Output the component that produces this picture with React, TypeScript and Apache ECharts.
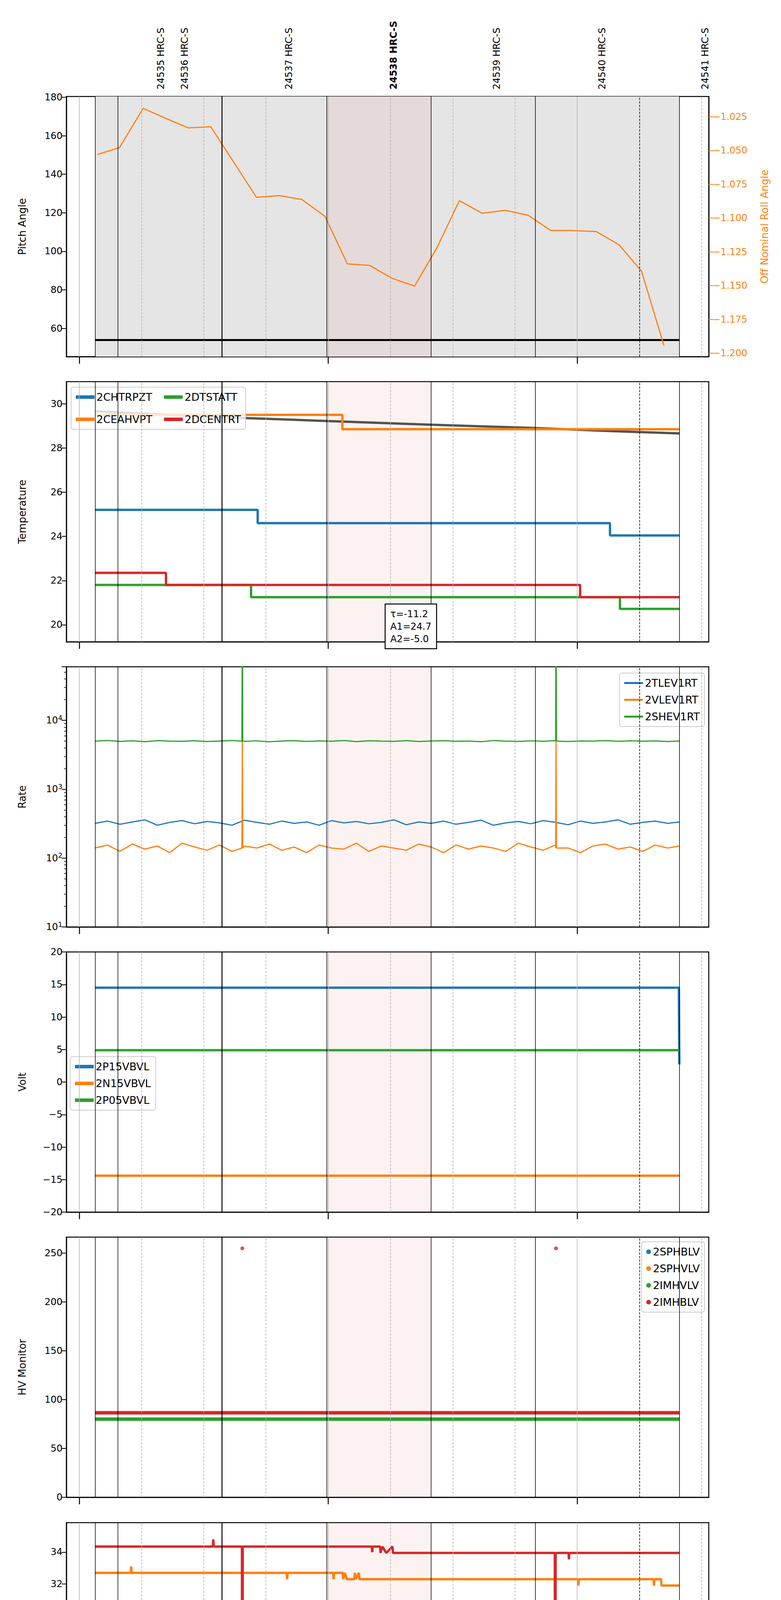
import * as echarts from 'echarts';
import React, { useEffect, useRef } from 'react';

// minutes after 14:00 on 2021-04-04
const X_MIN = -3.1;
const X_MAX = 151.7;
const T0 = 3.8;
const T1 = 144.6;

const OBS_TIMES = [19.7, 25.4, 50.5, 75.8, 100.6, 126, 150.9];
const OBS_LABELS = ['24535 HRC-S', '24536 HRC-S', '24537 HRC-S', '24538 HRC-S', '24539 HRC-S', '24540 HRC-S', '24541 HRC-S'];
const BOLD_OBS = '24538 HRC-S';

const GRAY_GRID = [0, 60, 120];
const DASHED_GRID = [15, 30, 45, 75, 90, 105, 150];
const BLACK_LINES = [3.8, 9.3, 59.6, 84.8, 109.9, 144.6];
const THICK_LINES = [34.4];
const DASHED_BLACK = [135];
const FOCUS_SPAN = [59.6, 84.8];

// panel 1
const PITCH = [[3.8, 53.9], [144.6, 53.9]];
const ROLL = [
  [4.4, -1.0529], [9.7, -1.0479], [15.4, -1.0188], [20.9, -1.0262], [26.3, -1.0333], [31.7, -1.0324],
  [42.7, -1.0846], [48.2, -1.0834], [53.6, -1.0862], [59.2, -1.0987], [64.6, -1.1339], [70.0, -1.1351],
  [75.4, -1.1446], [80.8, -1.1504], [86.2, -1.122], [91.6, -1.0871], [97.1, -1.0965], [102.7, -1.0943],
  [108.2, -1.098], [113.6, -1.1091], [119.2, -1.1093], [124.6, -1.110], [130.1, -1.1199], [135.5, -1.1393],
  [140.9, -1.1944],
];

// panel 2
const T_CHTRPZT = [[3.8, 25.2], [43, 25.2], [43, 24.6], [127.9, 24.6], [127.9, 24.04], [144.6, 24.04]];
const T_CEAHVPT = [[3.8, 29.5], [63.4, 29.5], [63.4, 28.85], [144.6, 28.85]];
const T_DTSTATT = [[3.8, 21.8], [41.4, 21.8], [41.4, 21.25], [130.3, 21.25], [130.3, 20.72], [144.6, 20.72]];
const T_DCENTRT = [[3.8, 22.35], [20.9, 22.35], [20.9, 21.8], [120.7, 21.8], [120.7, 21.25], [144.6, 21.25]];
const T_FIT = [[3.8, 29.66], [30, 29.42], [59.6, 29.22], [84.8, 29.05], [109.9, 28.9], [130, 28.75], [144.6, 28.66]];

// panel 3
const RATE_TIMES = [3.8, 6.8, 9.8, 12.8, 15.8, 18.8, 21.8, 24.8, 27.8, 30.8, 33.8, 36.8, 39.8, 42.8, 45.8, 48.8,
  51.8, 54.8, 57.8, 60.8, 63.8, 66.8, 69.8, 72.8, 75.8, 78.8, 81.8, 84.8, 87.8, 90.8, 93.8, 96.8, 99.8, 102.8,
  105.8, 108.8, 111.8, 114.8, 117.8, 120.8, 123.8, 126.8, 129.8, 132.8, 135.8, 138.8, 141.8, 144.6];
const R_TLEV1RT = [320, 345, 310, 335, 360, 300, 330, 350, 315, 340, 325, 300, 355, 330, 310, 345, 320, 335, 300, 350,
  325, 340, 315, 330, 360, 305, 335, 320, 345, 310, 330, 355, 300, 325, 340, 315, 350, 330, 305, 345, 320, 335, 360,
  310, 330, 345, 320, 335];
const R_VLEV1RT = [140, 155, 125, 160, 135, 150, 120, 165, 145, 130, 155, 125, 150, 140, 160, 130, 145, 120, 155, 140,
  135, 165, 125, 150, 140, 130, 160, 145, 120, 155, 135, 150, 140, 125, 165, 145, 130, 155, 140, 120, 150, 160, 135,
  145, 125, 155, 140, 150];
const R_SHEV1RT = [5000, 5100, 4950, 5050, 4900, 5080, 5000, 4970, 5060, 4930, 5020, 5090, 4960, 5040, 4880, 5010,
  5070, 4950, 5030, 4990, 5100, 4920, 5050, 5000, 4960, 5080, 4940, 5020, 5060, 4970, 5010, 4900, 5090, 5000, 4950,
  5040, 4980, 5070, 4930, 5020, 5000, 5080, 4960, 5050, 4990, 5030, 4940, 5010];
const V_SPIKES = [[39.2, 140], [39.3, 5000], [39.4, 140], [114.8, 140], [114.9, 5000], [115.0, 140]];
const S_SPIKES = [[39.2, 5000], [39.3, 1e6], [39.4, 5000], [114.8, 5000], [114.9, 1e6], [115.0, 5000]];

// panel 4
const V_P15 = [[3.8, 14.5], [144.5, 14.5], [144.6, 2.7]];
const V_N15 = [[3.8, -14.4], [144.6, -14.4]];
const V_P05 = [[3.8, 4.9], [144.6, 4.9]];

// panel 5
const HV_IMHVLV = [[3.8, 80], [144.6, 80]];
const HV_IMHBLV = [[3.8, 86.5], [144.6, 86.5]];
const HV_IMHBLV_OUT = [[39.3, 255], [114.9, 255]];

// panel 6
const D_SPINATM = [[3.8, 21.0], [144.6, 21.0]];
const D_SPHVATM = [[3.8, 32.7], [12.4, 32.7], [12.5, 33.1], [12.6, 32.7], [50.0, 32.7], [50.1, 32.3], [50.2, 32.7],
  [61.2, 32.7], [61.3, 32.3], [61.4, 32.7], [63.5, 32.7], [63.6, 32.3], [64, 32.7], [64.5, 32.3], [66.3, 32.3],
  [66.4, 32.7], [66.6, 32.3], [67.4, 32.7], [67.5, 32.3], [120.2, 32.3], [120.3, 31.9], [120.4, 32.3], [138.4, 32.3],
  [138.5, 31.9], [138.6, 32.3], [140.2, 32.3], [140.3, 31.9], [144.6, 31.9]];
const D_IMINATM = [[3.8, 21.7], [123.6, 21.7], [123.7, 21.0], [124, 21.7], [125.5, 21.7], [125.6, 21.0], [126.3, 21.7],
  [126.4, 21.0], [144.6, 21.0]];
const D_IMHVATM = [[3.8, 34.35], [32.2, 34.35], [32.3, 34.8], [32.4, 34.35], [39.2, 34.35], [39.3, 10], [39.4, 34.35],
  [70.5, 34.35], [70.6, 34.0], [70.7, 34.35], [72.5, 34.35], [72.6, 33.95], [73, 34.35], [74, 33.95], [75.5, 34.35],
  [75.6, 33.95], [114.6, 33.95], [114.7, 10], [114.8, 33.95], [117.9, 33.95], [118, 33.55], [118.1, 33.95],
  [144.6, 33.95]];

// panel 7
const F_FHTRMZT = [[3.8, 22.9], [43.7, 22.9], [43.8, 22.35], [130.6, 22.35], [130.7, 21.8], [144.6, 21.8]];
const F_FRADPYT = [[3.8, 17.65], [8.8, 17.65], [8.9, 17.15], [88.4, 17.15], [88.5, 16.65], [144.6, 16.65]];
const F_FEPRATM = [[3.8, 24.65], [39.2, 24.65], [39.3, 22.7], [39.4, 24.65], [63.3, 24.65], [63.4, 23.9], [64, 24.65],
  [65.2, 24.65], [65.3, 23.9], [114.6, 23.9], [114.7, 22.1], [114.8, 23.9], [144.6, 23.9]];
const F_FE00ATM = [[3.8, 22.65], [9.2, 22.65], [9.3, 23.0], [9.4, 22.65], [14.8, 22.65], [14.9, 23.65], [15.0, 21.9],
  [15.1, 22.65], [16.9, 22.65], [17.0, 23.3], [17.1, 22.65], [23.6, 22.65], [23.7, 21.7], [23.8, 22.65], [28.3, 22.65],
  [28.4, 21.7], [28.5, 22.65], [31.8, 22.65], [31.9, 23.0], [32.0, 22.65], [34.9, 22.65], [35.0, 21.05], [35.1, 22.65],
  [37.1, 22.65], [37.2, 22.35], [37.4, 22.65], [39.2, 22.65], [39.3, 10], [39.5, 23.0], [39.6, 22.35], [43.7, 22.35],
  [43.8, 21.7], [44.3, 23.0], [44.4, 22.35], [80.0, 22.35], [80.1, 22.0], [80.2, 22.35], [88.4, 22.35], [88.5, 22.65],
  [88.6, 22.35], [94.7, 22.35], [94.8, 22.65], [94.9, 22.35], [98.4, 22.35], [98.5, 22.0], [98.8, 22.35],
  [101.5, 22.35], [101.6, 22.0], [105.5, 22.0], [105.6, 23.3], [105.7, 22.0], [109.8, 22.0], [109.9, 22.35],
  [110.0, 22.0], [114.6, 22.0], [114.7, 10], [114.8, 22.0], [127.5, 22.0], [127.6, 21.4], [127.7, 22.0], [128.6, 22.0],
  [128.7, 22.35], [128.8, 21.7], [128.9, 22.0], [144.6, 22.0]];

const BLUE = '#1f77b4';
const ORANGE = '#ff7f0e';
const GREEN = '#2ca02c';
const RED = '#d62728';
const FONT = 'DejaVu Sans';

const GRID_TOPS = [247, 977, 1707, 2437, 3167, 3898, 4628];
const GRID_H = 666;

const zip = (xs: number[], ys: number[]) => xs.map((x, i) => [x, ys[i]]);
const merge = (a: number[][], b: number[][]) => [...a, ...b].sort((p, q) => p[0] - q[0]);
const minus = (v: number, digits = 0) => (v < 0 ? '\u2212' : '') + Math.abs(v).toFixed(digits);

const App: React.FC = () => {
  const ref = useRef<HTMLDivElement>(null);

  useEffect(() => {
    if (!ref.current) return undefined;
    document.body.style.margin = '0';
    const chart = echarts.init(ref.current, null, { renderer: 'svg' });

    const vLine = (x: number, color: string, width: number, type: string) => ({
      xAxis: x,
      lineStyle: { color, width, type },
    });
    const markers = (top: boolean) => ({
      markLine: {
        silent: true,
        symbol: ['none', 'none'],
        label: { show: false },
        data: [
          ...GRAY_GRID.map((x) => vLine(x, '#b0b0b0', 1.5, 'solid')),
          ...DASHED_GRID.map((x) => vLine(x, '#b0b0b0', 1.5, 'dashed')),
          ...BLACK_LINES.map((x) => vLine(x, '#000', 1.5, 'solid')),
          ...THICK_LINES.map((x) => vLine(x, '#000', 2.5, 'solid')),
          ...DASHED_BLACK.map((x) => vLine(x, '#000', 1.5, 'dashed')),
        ],
      },
      markArea: {
        silent: true,
        data: [
          ...(top ? [[{ xAxis: T0, itemStyle: { color: '#e5e5e5' } }, { xAxis: T1 }]] : []),
          [{ xAxis: FOCUS_SPAN[0], itemStyle: { color: 'rgba(240,128,128,0.1)' } }, { xAxis: FOCUS_SPAN[1] }],
        ],
      },
    });

    const grids = GRID_TOPS.map((top) => ({
      left: 170, right: 185, top, height: GRID_H, show: true, borderColor: '#000', borderWidth: 2.5,
      backgroundColor: 'transparent',
    }));

    const xAxes: any[] = GRID_TOPS.map((_, i) => ({
      type: 'value', gridIndex: i, min: X_MIN, max: X_MAX, splitLine: { show: false },
      axisLine: { show: true, onZero: false, lineStyle: { color: '#000', width: 2.5 } },
      axisTick: { show: true, customValues: [0, 60, 120], length: 18, lineStyle: { color: '#000', width: 2.5 } },
      axisLabel: i === 6
        ? {
          show: true, customValues: [0, 15, 30, 45, 60, 75, 90, 105, 120, 135, 150], margin: 10,
          formatter: (v: number) => (v % 60 === 0 ? `{maj|${14 + v / 60}h}` : `{mn|${v % 60}}`),
          rich: {
            maj: { fontSize: 28, fontFamily: FONT, color: '#000', padding: [34, 0, 0, 0] },
            mn: { fontSize: 18, fontFamily: FONT, color: '#000' },
          },
        }
        : { show: false },
      ...(i === 6 ? {
        name: '2021-04-04 (094)', nameLocation: 'middle', nameGap: 82,
        nameTextStyle: { fontSize: 30, fontFamily: FONT, color: '#000' },
      } : {}),
    }));
    xAxes.push({
      type: 'value', gridIndex: 0, position: 'top', min: X_MIN, max: X_MAX, splitLine: { show: false },
      axisLine: { show: false, onZero: false }, axisTick: { show: false },
      axisLabel: {
        show: true, customValues: OBS_TIMES, rotate: -90, margin: 18,
        formatter: (v: number) => {
          const lbl = OBS_LABELS[OBS_TIMES.indexOf(v)] ?? '';
          return lbl === BOLD_OBS ? `{b|${lbl}}` : `{n|${lbl}}`;
        },
        rich: {
          b: { fontSize: 24, fontWeight: 'bold', fontFamily: FONT, color: '#000' },
          n: { fontSize: 24, fontFamily: FONT, color: '#000' },
        },
      },
    });

    const yBase = (grid: number, name: string, min: number, max: number, ticks: number[] | null, extra: any = {}) => ({
      type: 'value', gridIndex: grid, min, max, name, nameLocation: 'middle', nameGap: 100,
      nameTextStyle: { fontSize: 26, fontFamily: FONT, color: '#000' },
      splitLine: { show: false },
      axisLine: { show: true, onZero: false, lineStyle: { color: '#000', width: 2.5 } },
      axisTick: { show: true, length: 12, lineStyle: { color: '#000', width: 2 }, ...(ticks ? { customValues: ticks } : {}) },
      axisLabel: {
        fontSize: 24, fontFamily: FONT, color: '#000', margin: 10,
        formatter: (v: number) => minus(v), ...(ticks ? { customValues: ticks } : {}),
      },
      ...extra,
    });

    const rollTicks = [-1.2, -1.175, -1.15, -1.125, -1.1, -1.075, -1.05, -1.025];
    const yAxes: any[] = [
      yBase(0, 'Pitch Angle', 45.3, 180.4, [60, 80, 100, 120, 140, 160, 180]),
      yBase(1, 'Temperature', 19.23, 31.0, [20, 22, 24, 26, 28, 30]),
      {
        type: 'log', gridIndex: 2, logBase: 10, min: 10, max: 60000, name: 'Rate', nameLocation: 'middle', nameGap: 100,
        nameTextStyle: { fontSize: 26, fontFamily: FONT, color: '#000' },
        splitLine: { show: false },
        axisLine: { show: true, onZero: false, lineStyle: { color: '#000', width: 2.5 } },
        axisTick: { show: true, length: 12, lineStyle: { color: '#000', width: 2 } },
        minorTick: { show: true, splitNumber: 9, length: 6, lineStyle: { color: '#000', width: 1.5 } },
        axisLabel: {
          fontSize: 24, fontFamily: FONT, color: '#000', margin: 10, showMaxLabel: false,
          formatter: (v: number) => `{b|10}{s|${Math.round(Math.log10(v))}}`,
          rich: {
            b: { fontSize: 24, fontFamily: FONT, color: '#000' },
            s: { fontSize: 18, fontFamily: FONT, color: '#000', verticalAlign: 'top', padding: [0, 0, 14, 0] },
          },
        },
      },
      yBase(3, 'Volt', -20, 20, null, { interval: 5 }),
      yBase(4, 'HV Monitor', 0, 266.5, [0, 50, 100, 150, 200, 250]),
      yBase(5, 'Detector Temp', 19.52, 35.85, [20, 22, 24, 26, 28, 30, 32, 34]),
      yBase(6, 'FEA Temp', 15.17, 26.13, [16, 18, 20, 22, 24, 26]),
      {
        type: 'value', gridIndex: 0, position: 'right', min: -1.2026, max: -1.010,
        name: 'Off Nominal Roll Angle', nameLocation: 'middle', nameGap: 130, nameRotate: 90,
        nameTextStyle: { fontSize: 26, fontFamily: FONT, color: ORANGE },
        splitLine: { show: false },
        axisLine: { show: true, onZero: false, lineStyle: { color: '#000', width: 2.5 } },
        axisTick: { show: true, length: 12, lineStyle: { color: ORANGE, width: 2 }, customValues: rollTicks },
        axisLabel: { fontSize: 24, fontFamily: FONT, color: ORANGE, margin: 10, customValues: rollTicks,
          formatter: (v: number) => minus(v, 3) },
      },
    ];

    const line = (name: string, axis: number, data: number[][], color: string, width: number, extra: any = {}) => ({
      name, type: 'line', xAxisIndex: axis, yAxisIndex: axis, data, showSymbol: false, symbol: 'none',
      lineStyle: { color, width }, itemStyle: { color }, z: 3, ...extra,
    });
    const dummy = (i: number, y: number) => ({
      type: 'line', xAxisIndex: i, yAxisIndex: i, data: [[X_MIN, y]], symbol: 'none', silent: true,
      lineStyle: { opacity: 0 }, z: 1, ...markers(i === 0),
    });

    const series: any[] = [
      dummy(0, 100), dummy(1, 25), dummy(2, 100), dummy(3, 0), dummy(4, 100), dummy(5, 25), dummy(6, 20),
      line('Pitch', 0, PITCH, '#000', 5),
      line('Roll', 0, ROLL, ORANGE, 3, { yAxisIndex: 7 }),
      line('fit', 1, T_FIT, 'rgba(40,40,40,0.8)', 6),
      line('2CHTRPZT', 1, T_CHTRPZT, BLUE, 6),
      line('2CEAHVPT', 1, T_CEAHVPT, ORANGE, 6),
      line('2DTSTATT', 1, T_DTSTATT, GREEN, 6),
      line('2DCENTRT', 1, T_DCENTRT, RED, 6),
      line('2TLEV1RT', 2, zip(RATE_TIMES, R_TLEV1RT), BLUE, 3),
      line('2VLEV1RT', 2, merge(zip(RATE_TIMES, R_VLEV1RT), V_SPIKES), ORANGE, 3),
      line('2SHEV1RT', 2, merge(zip(RATE_TIMES, R_SHEV1RT), S_SPIKES), GREEN, 3),
      line('2P15VBVL', 3, V_P15, BLUE, 6),
      line('2N15VBVL', 3, V_N15, ORANGE, 6),
      line('2P05VBVL', 3, V_P05, GREEN, 6),
      line('2SPHBLV', 4, [], BLUE, 8),
      line('2SPHVLV', 4, [], ORANGE, 8),
      line('2IMHVLV', 4, HV_IMHVLV, GREEN, 9),
      line('2IMHBLV', 4, HV_IMHBLV, RED, 9),
      { name: '2IMHBLV', type: 'scatter', xAxisIndex: 4, yAxisIndex: 4, data: HV_IMHBLV_OUT, symbolSize: 10,
        itemStyle: { color: RED }, z: 3 },
      line('2SPINATM', 5, D_SPINATM, BLUE, 6),
      line('2SPHVATM', 5, D_SPHVATM, ORANGE, 6),
      line('2IMINATM', 5, D_IMINATM, GREEN, 6),
      line('2IMHVATM', 5, D_IMHVATM, RED, 6),
      line('2FHTRMZT', 6, F_FHTRMZT, BLUE, 6),
      line('2FRADPYT', 6, F_FRADPYT, ORANGE, 6),
      line('2FEPRATM', 6, F_FEPRATM, GREEN, 6),
      line('2FE00ATM', 6, F_FE00ATM, RED, 6),
    ];

    const legendBase = {
      backgroundColor: 'rgba(255,255,255,0.8)', borderColor: '#ccc', borderWidth: 2, borderRadius: 6,
      padding: [12, 12], itemGap: 16, itemWidth: 48, itemHeight: 9, icon: 'rect',
      textStyle: { fontSize: 27, fontFamily: FONT, color: '#000' },
    };
    const legend = [
      { ...legendBase, data: ['2CHTRPZT', '2DTSTATT', '2CEAHVPT', '2DCENTRT'], orient: 'horizontal', left: 182,
        top: GRID_TOPS[1] + 14, width: 470, itemGap: 30 },
      { ...legendBase, data: ['2TLEV1RT', '2VLEV1RT', '2SHEV1RT'], orient: 'vertical', right: 196, top: GRID_TOPS[2] + 16, itemHeight: 5 },
      { ...legendBase, data: ['2P15VBVL', '2N15VBVL', '2P05VBVL'], orient: 'vertical', left: 180, top: 2705 },
      { ...legendBase, data: ['2SPHBLV', '2SPHVLV', '2IMHVLV', '2IMHBLV'], orient: 'vertical', right: 196,
        top: GRID_TOPS[4] + 12, icon: 'circle', itemWidth: 12, itemHeight: 12 },
      { ...legendBase, data: ['2SPINATM', '2SPHVATM', '2IMINATM', '2IMHVATM'], orient: 'vertical', right: 196, top: 4147 },
      { ...legendBase, data: ['2FHTRMZT', '2FRADPYT', '2FEPRATM', '2FE00ATM'], orient: 'vertical', left: 180, top: 4873 },
    ];

    chart.setOption({
      animation: false,
      backgroundColor: '#fff',
      grid: grids,
      xAxis: xAxes,
      yAxis: yAxes,
      legend,
      series,
      graphic: [{
        type: 'text', left: 985, top: 1545, z: 100,
        style: {
          text: '\u03c4=-11.2\nA1=24.7\nA2=-5.0', fontSize: 24, fontFamily: FONT, fill: '#000', lineHeight: 32,
          backgroundColor: '#fff', borderColor: '#000', borderWidth: 2.5, padding: [8, 12],
        },
      }],
    });

    return () => chart.dispose();
  }, []);

  return <div ref={ref} style={{ width: 2000, height: 5400 }} />;
};

export default App;
